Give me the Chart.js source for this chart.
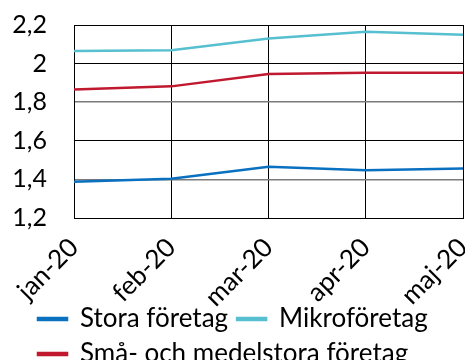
<!DOCTYPE html>
<html><head><meta charset="utf-8">
<script src="https://cdn.jsdelivr.net/npm/chart.js@4/dist/chart.umd.min.js"></script>
<style>html,body{margin:0;padding:0;background:#fff;overflow:hidden;width:465px;height:360px}</style>
</head><body>
<canvas id="c" width="465" height="375"></canvas>
<script>
const categories = ["jan-20","feb-20","mar-20","apr-20","maj-20"];
const stora = [1.388, 1.403, 1.466, 1.447, 1.457];
const mikro = [2.065, 2.069, 2.130, 2.165, 2.150];
const sma = [1.866, 1.882, 1.946, 1.953, 1.953];
const yTicks = [1.2, 1.4, 1.6, 1.8, 2.0, 2.2];
const FONT = "Lato";
const FS = 25;
const shiftLegend = {
  id: 'shiftLegend',
  afterLayout(chart) { if (chart.legend) { chart.legend.left = 29; chart.legend.top += 2; } }
};
new Chart(document.getElementById('c'), {
  type: 'line',
  data: {
    labels: categories,
    datasets: [
      {label: 'Stora företag', data: stora, borderColor: '#0a70c0', backgroundColor: '#0a70c0'},
      {label: 'Mikroföretag', data: mikro, borderColor: '#56bfd0', backgroundColor: '#56bfd0'},
      {label: 'Små- och medelstora företag', data: sma, borderColor: '#c0182f', backgroundColor: '#c0182f'}
    ].map(d => Object.assign(d, {borderWidth: 2.5, pointRadius: 0, tension: 0, fill: false}))
  },
  plugins: [shiftLegend],
  options: {
    responsive: false,
    animation: false,
    layout: {padding: {left: 0, right: 2, top: 25, bottom: 0}},
    plugins: {
      tooltip: {enabled: false},
      legend: {
        position: 'bottom', align: 'start',
        labels: {
          font: {family: FONT, size: 26}, color: '#000',
          boxWidth: 29, boxHeight: 2, padding: 9
        }
      }
    },
    scales: {
      x: {
        offset: false,
        grid: {color: '#000', lineWidth: 1, drawTicks: false},
        border: {color: '#000'},
        ticks: {font: {family: FONT, size: 26}, color: '#000', minRotation: 45, maxRotation: 45, padding: 14, autoSkip: false},
        afterFit: s => { s.height = 77; s.paddingRight = 0; s.paddingLeft = 0; s._computeLabelArea = () => undefined; }
      },
      y: {
        min: 1.2, max: 2.2,
        afterBuildTicks: s => { s.ticks = yTicks.map(v => ({value: v})); },
        grid: {drawTicks: false, color: c => (c.tick && (Math.abs(c.tick.value-1.8)<1e-6 || Math.abs(c.tick.value-1.4)<1e-6)) ? '#7a7a7a' : '#000', lineWidth: c => (c.tick && (Math.abs(c.tick.value-1.8)<1e-6 || Math.abs(c.tick.value-1.4)<1e-6)) ? 1.5 : 1},
        border: {color: '#000'},
        ticks: {font: {family: FONT, size: FS}, color: '#000', padding: 27,
          callback: v => String(Math.round(v*10)/10).replace('.', ',')},
        afterFit: s => { s.width = 74; s.paddingTop = 0; s.paddingBottom = 0; }
      }
    }
  }
});
</script>
</body></html>
